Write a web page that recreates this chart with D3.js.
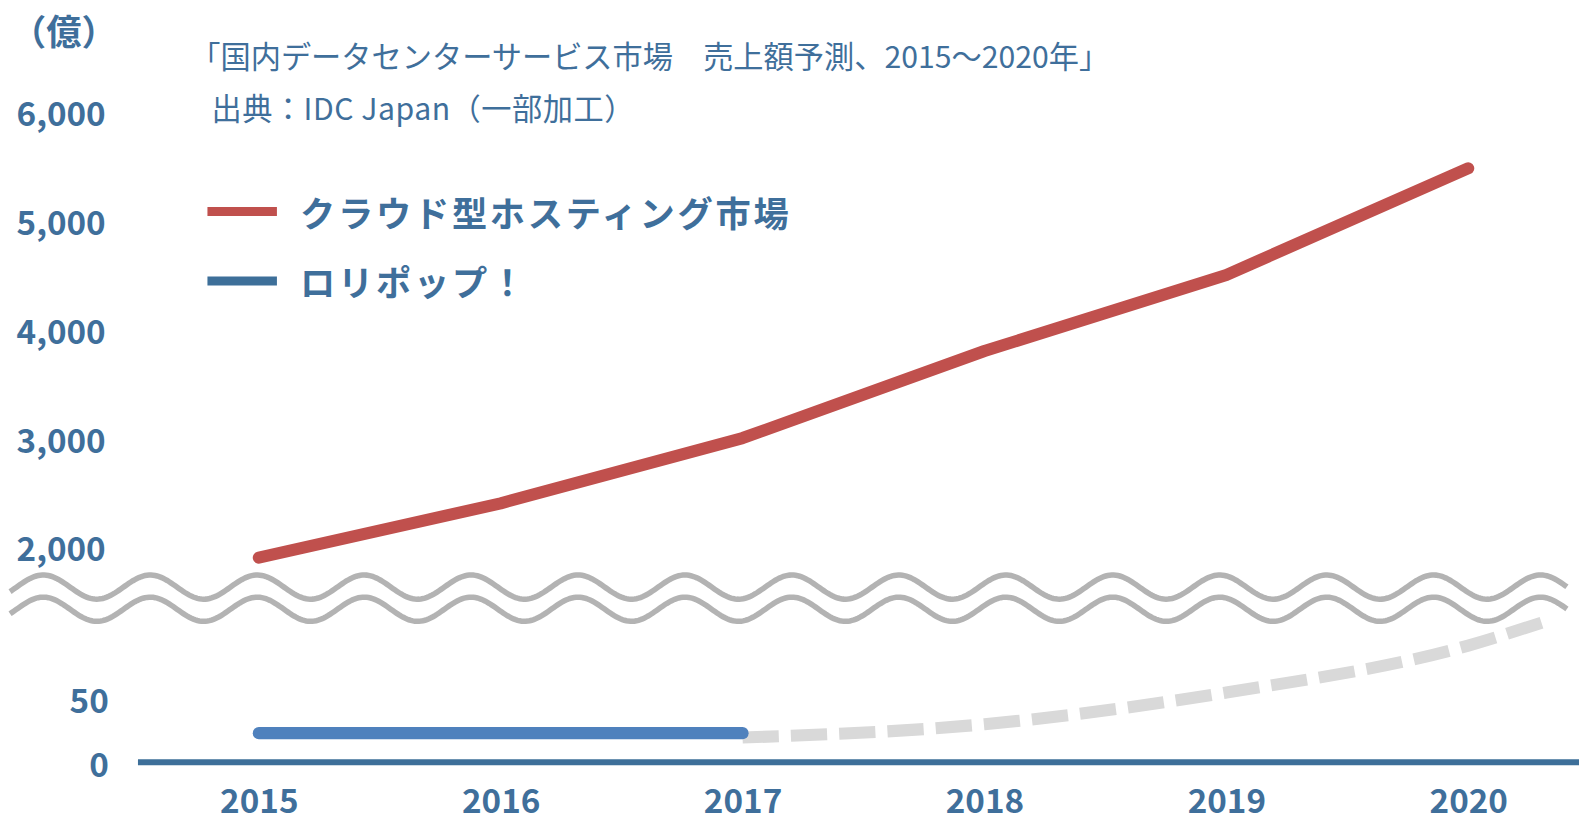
<!DOCTYPE html>
<html>
<head>
<meta charset="utf-8">
<script src="https://cdn.jsdelivr.net/npm/d3@7"></script>
<style>
  html, body { margin: 0; padding: 0; background: #fff; }
  svg { display: block; }
  text { font-family: "Noto Sans CJK JP", "Noto Sans", sans-serif; fill: #3f6f9b; }
</style>
</head>
<body>
<div id="chart"></div>
<script>
const WIDTH = 1579;
const HEIGHT = 822;
// layout was measured on a 1568-wide copy of the reference
const K = WIDTH / 1568;

const years = [2015, 2016, 2017, 2018, 2019, 2020];
const cloudHosting = [1900, 2400, 3000, 3800, 4500, 5480];
const lolipopYears = [2015, 2016, 2017];
const lolipop = [23, 23, 23];
const projectionYears = [2017, 2018, 2019, 2020, 2020.35];
const projection = [19.5, 30, 55, 92, 113];
const upperTicks = [2000, 3000, 4000, 5000, 6000];
const lowerTicks = [0, 50];
const legendLabels = ["クラウド型ホスティング市場", "ロリポップ！"];

const root = d3.select("#chart").append("svg")
	.attr("width", WIDTH)
	.attr("height", HEIGHT);

const svg = root.append("g").attr("transform", `scale(${K})`);

const x = d3.scaleLinear().domain([2015, 2020]).range([257, 1458]);
const yUpper = d3.scaleLinear().domain([2000, 6000]).range([543, 111]);
const yLower = d3.scaleLinear().domain([0, 50]).range([757, 694]);

// titles
svg.append("text")
	.attr("x", 11).attr("y", 29)
	.attr("dominant-baseline", "central")
	.style("font-size", "35px").style("font-weight", 700)
	.text("（億）");

svg.append("text")
	.attr("x", 189).attr("y", 55)
	.attr("dominant-baseline", "central")
	.style("font-size", "30px")
	.text("「国内データセンターサービス市場　売上額予測、2015～2020年」");

svg.append("text")
	.attr("x", 210).attr("y", 106)
	.attr("dominant-baseline", "central")
	.style("font-size", "30px")
	.style("letter-spacing", "0.5px")
	.text("出典：IDC Japan（一部加工）");

// y tick labels
svg.selectAll(".tick-up").data(upperTicks).enter().append("text")
	.attr("class", "tick-up")
	.attr("x", 105).attr("y", d => yUpper(d))
	.attr("text-anchor", "end").attr("dominant-baseline", "central")
	.style("font-size", "33px").style("font-weight", 700)
	.text(d => d3.format(",")(d));

svg.selectAll(".tick-low").data(lowerTicks).enter().append("text")
	.attr("class", "tick-low")
	.attr("x", 108).attr("y", d => yLower(d))
	.attr("text-anchor", "end").attr("dominant-baseline", "central")
	.style("font-size", "33px").style("font-weight", 700)
	.text(d => d);

// x axis
const axisX = d3.axisBottom(x).tickValues(years).tickSize(0).tickPadding(27).tickFormat(d3.format("d"));
const gX = svg.append("g")
	.attr("transform", `translate(0,${yLower(0)})`)
	.call(axisX);
gX.select(".domain").remove();
gX.selectAll("text")
	.style("font-size", "33px").style("font-weight", 700)
	.style("font-family", "'Noto Sans CJK JP', sans-serif")
	.attr("fill", "#3f6f9b");

svg.append("line")
	.attr("x1", 137).attr("x2", 1570)
	.attr("y1", yLower(0)).attr("y2", yLower(0))
	.attr("stroke", "#3d6f99").attr("stroke-width", 6);

// projection (dashed)
const projLine = d3.line()
	.x((d, i) => x(projectionYears[i]))
	.y(d => yLower(d))
	.curve(d3.curveMonotoneX);

svg.append("path")
	.datum(projection)
	.attr("d", projLine)
	.attr("fill", "none")
	.attr("stroke", "#d9d9d9")
	.attr("stroke-width", 12)
	.attr("stroke-dasharray", "36 12");

// lolipop line
svg.append("path")
	.datum(lolipop)
	.attr("d", d3.line().x((d, i) => x(lolipopYears[i])).y(d => yLower(d)))
	.attr("fill", "none")
	.attr("stroke", "#4f81bd")
	.attr("stroke-width", 12)
	.attr("stroke-linecap", "round");

// cloud hosting line
svg.append("path")
	.datum(cloudHosting)
	.attr("d", d3.line().x((d, i) => x(years[i])).y(d => yUpper(d)))
	.attr("fill", "none")
	.attr("stroke", "#c0504d")
	.attr("stroke-width", 12)
	.attr("stroke-linecap", "round")
	.attr("stroke-linejoin", "round");

// axis break waves
const wavePeriod = 106.2, waveAmp = 12, waveCrest = 43;
const waveXs = d3.range(10, 1557, 2);
const wave = mid => d3.line()
	.x(d => d)
	.y(d => mid - waveAmp * Math.cos(2 * Math.PI * (d - waveCrest) / wavePeriod))(waveXs);

[583, 605].forEach(mid => {
	svg.append("path")
		.attr("d", wave(mid))
		.attr("fill", "none")
		.attr("stroke", "#b3b3b3")
		.attr("stroke-width", 5.5);
});

// legend
const legendColors = ["#c0504d", "#3d6f99"];
const legend = svg.selectAll(".legend").data(legendLabels).enter().append("g")
	.attr("class", "legend")
	.attr("transform", (d, i) => `translate(206,${210 + i * 69})`);

legend.append("line")
	.attr("x1", 0).attr("x2", 69)
	.attr("stroke", (d, i) => legendColors[i])
	.attr("stroke-width", 9);

legend.append("text")
	.attr("x", 92)
	.attr("dominant-baseline", "central")
	.style("font-size", "35px").style("font-weight", 700)
	.style("letter-spacing", "2.7px")
	.text(d => d);
</script>
</body>
</html>
